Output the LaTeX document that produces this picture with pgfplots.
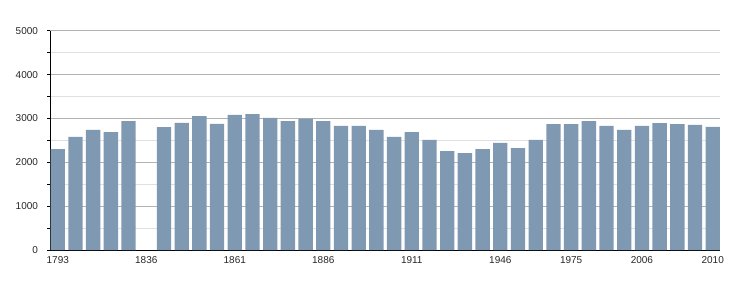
\documentclass[border=0pt]{standalone}
\usepackage{pgfplots}
\pgfplotsset{compat=1.18}
\usepackage{fontspec}
\setmainfont{Liberation Sans}
\definecolor{barc}{HTML}{7F99B2}
\begin{document}
\begin{tikzpicture}[x=1pt,y=1pt]
\useasboundingbox (-50.5,-50) rectangle (699.5,250);
\begin{axis}[
  at={(0,0)}, anchor=south west,
  scale only axis, width=669.5pt, height=219.3pt,
  xmin=-0.41, xmax=37.41, ymin=0, ymax=5000,
  axis x line*=bottom, axis y line*=left,
  axis line style={black, line width=0.8pt},
  xtick={0,5,10,15,20,25,29,33,37},
  xticklabels={1793,1836,1861,1886,1911,1946,1975,2006,2010},
  major x tick style={draw=none},
  ytick={0,1000,...,5000}, minor y tick num=1,
  ymajorgrids, yminorgrids,
  major grid style={color=black!30, line width=0.6pt},
  minor grid style={color=black!12, line width=0.6pt},
  tick align=outside, major tick length=3pt, minor tick length=3pt,
  every tick/.style={black, line width=0.6pt},
  tick label style={font=\fontsize{10}{12}\selectfont, text=black!85},
  /pgf/number format/assume math mode=true,
  /pgf/number format/set thousands separator={},
  y tick label style={xshift=-6pt},
  ybar, bar width=0.81,
]
\addplot[fill=barc, draw=none] coordinates {
(0,2300) (1,2580) (2,2740) (3,2690) (4,2940)
(6,2800) (7,2900) (8,3055) (9,2875) (10,3080) (11,3100) (12,3010)
(13,2940) (14,2995) (15,2940) (16,2830) (17,2830) (18,2740) (19,2580)
(20,2690) (21,2510) (22,2255) (23,2210) (24,2300) (25,2440) (26,2325)
(27,2510) (28,2870) (29,2870) (30,2940) (31,2830) (32,2740) (33,2830)
(34,2895) (35,2870) (36,2850) (37,2805)
};
\end{axis}
\end{tikzpicture}
\end{document}
